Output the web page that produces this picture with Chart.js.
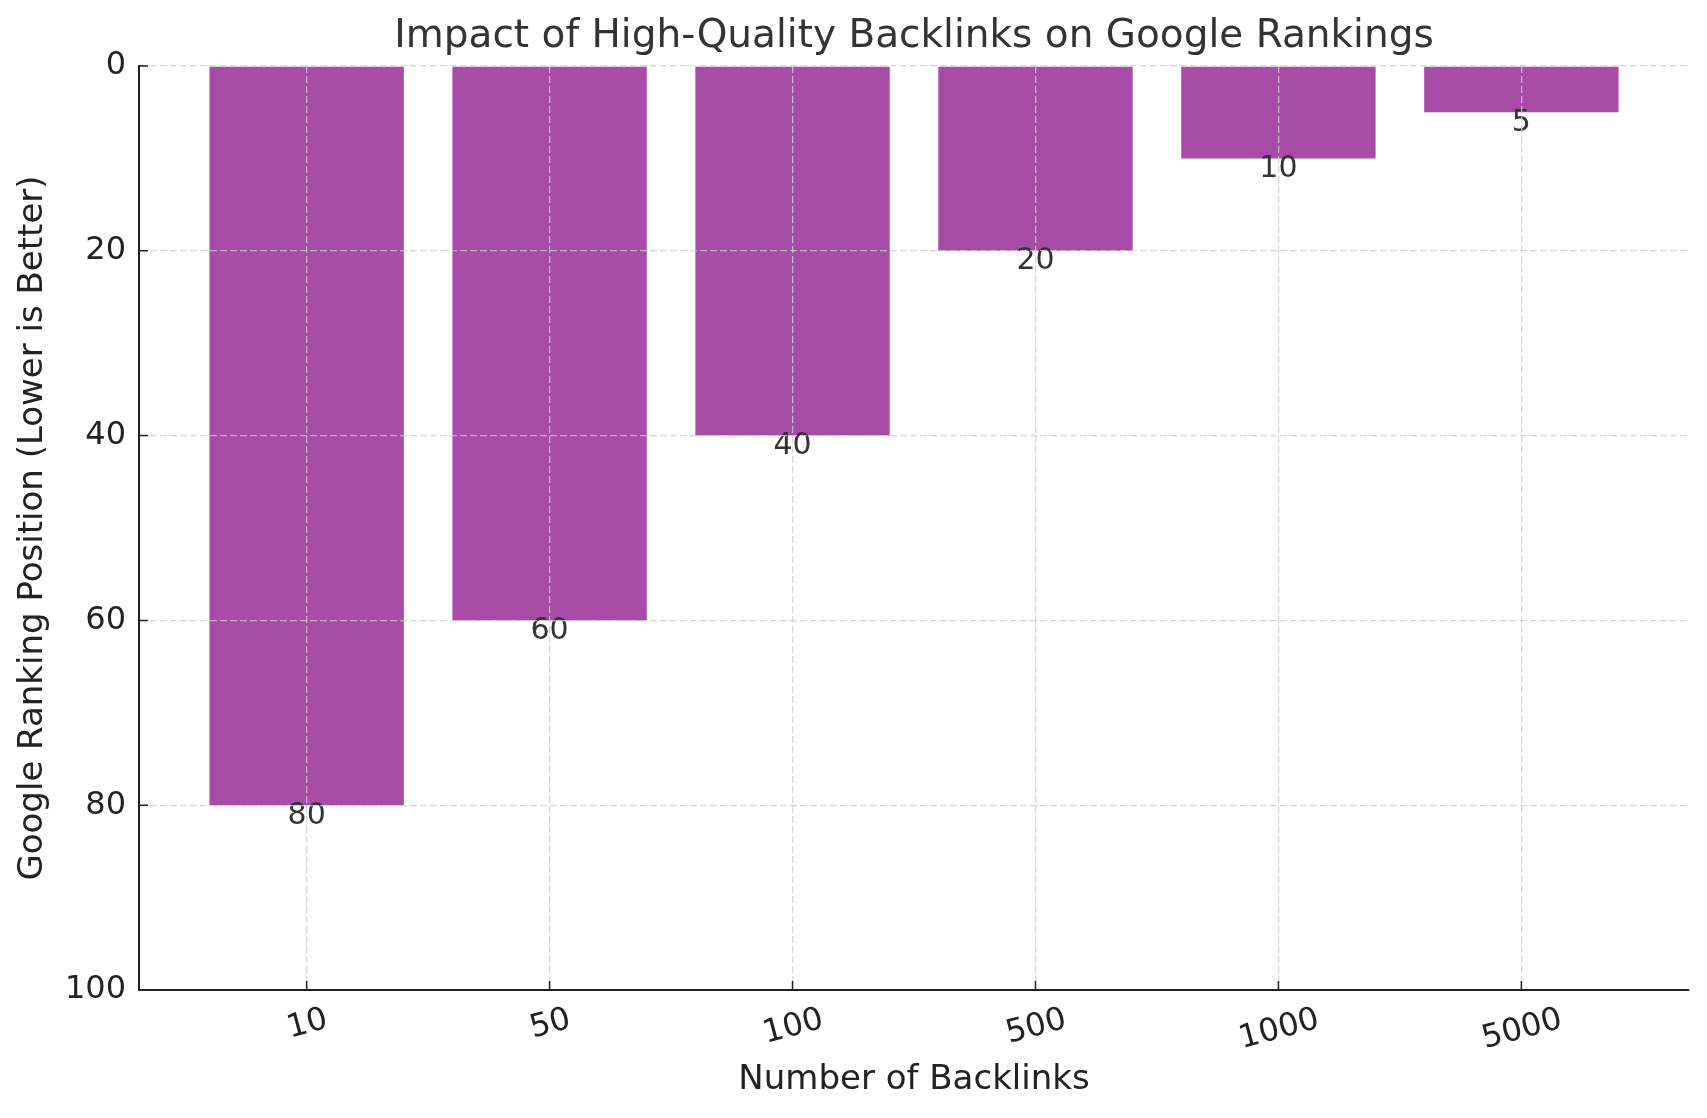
<!DOCTYPE html>
<html>
<head>
<meta charset="utf-8">
<title>Impact of High-Quality Backlinks on Google Rankings</title>
<script src="https://cdn.jsdelivr.net/npm/chart.js@4/dist/chart.umd.min.js"></script>
<style>
    html, body { margin: 0; padding: 0; background: #fff; }
    #wrap { width: 1707px; height: 1118px; }
</style>
</head>
<body>
<div id="wrap"><canvas id="rankChart" width="1707" height="1118"></canvas></div>
<script>
// ═══ 데이터 ═══
const backlinkLabels = ['10', '50', '100', '500', '1000', '5000'];
const rankPositions  = [80, 60, 40, 20, 10, 5];
const yTicks         = [0, 20, 40, 60, 80, 100];

const BAR_COLOR  = '#a64ca6';
const GRID_COLOR = 'rgba(205,205,205,0.8)';
const AXIS_COLOR = '#222222';
const TEXT_DARK  = '#222222';
const TEXT_GRAY  = '#333333';

Chart.defaults.font.family = "'DejaVu Sans', sans-serif";

/**
 * 막대 아래 값 라벨 + 회전된 x 눈금 라벨 + 안쪽 눈금
 */
const decorPlugin = {
    id: 'decor',
    afterDatasetsDraw(chart) {
        const { ctx } = chart;
        const yScale = chart.scales.y;
        const meta = chart.getDatasetMeta(0);

        ctx.save();
        ctx.fillStyle = TEXT_GRAY;
        ctx.font = "30px 'DejaVu Sans'";
        ctx.textAlign = 'center';
        ctx.textBaseline = 'alphabetic';
        meta.data.forEach((bar, i) => {
            const v = rankPositions[i];
            ctx.fillText(String(v), bar.x, yScale.getPixelForValue(v + 2));
        });
        ctx.restore();
    },
    afterDraw(chart) {
        const { ctx } = chart;
        const xScale = chart.scales.x;
        const yScale = chart.scales.y;
        const area = chart.chartArea;

        // 안쪽 눈금
        ctx.save();
        ctx.strokeStyle = AXIS_COLOR;
        ctx.lineWidth = 1.5;
        ctx.beginPath();
        backlinkLabels.forEach((_, i) => {
            const px = xScale.getPixelForValue(i);
            ctx.moveTo(px, area.bottom);
            ctx.lineTo(px, area.bottom - 9);
        });
        yTicks.forEach(t => {
            const py = yScale.getPixelForValue(t);
            ctx.moveTo(area.left, py);
            ctx.lineTo(area.left + 9, py);
        });
        ctx.stroke();
        ctx.restore();

        // x 눈금 라벨 (15도 회전, 가운데 정렬)
        const angle = 15 * Math.PI / 180;
        const capH = 23;
        ctx.save();
        ctx.fillStyle = TEXT_DARK;
        ctx.font = "32px 'DejaVu Sans'";
        ctx.textAlign = 'center';
        ctx.textBaseline = 'alphabetic';
        backlinkLabels.forEach((lab, i) => {
            const w = ctx.measureText(lab).width;
            const boxH = w * Math.sin(angle) + capH * Math.cos(angle);
            const cx = xScale.getPixelForValue(i);
            const cy = area.bottom + 15 + boxH / 2;
            ctx.save();
            ctx.translate(cx, cy);
            ctx.rotate(-angle);
            ctx.fillText(lab, 0, capH / 2);
            ctx.restore();
        });
        ctx.restore();
    }
};

const ctx = document.getElementById('rankChart').getContext('2d');
new Chart(ctx, {
    type: 'bar',
    data: {
        datasets: [{
            data: rankPositions.map((v, i) => ({ x: i, y: v })),
            backgroundColor: BAR_COLOR,
            borderWidth: 0,
            barPercentage: 0.8,
            categoryPercentage: 1.0
        }]
    },
    options: {
        responsive: false,
        animation: false,
        devicePixelRatio: 1,
        layout: { padding: { left: 0, right: 18, top: 0, bottom: 0 } },
        scales: {
            x: {
                type: 'linear',
                min: -0.69,
                max: 5.69,
                offset: false,
                afterBuildTicks: s => { s.ticks = backlinkLabels.map((_, i) => ({ value: i })); },
                afterFit: s => { s.height = 128; },
                ticks: { display: false },
                grid: { color: GRID_COLOR, lineWidth: 1.3, drawTicks: false, offset: false, z: 1 },
                border: { color: AXIS_COLOR, width: 2, dash: [7, 3], z: 2 },
                title: {
                    display: true,
                    text: 'Number of Backlinks',
                    color: TEXT_DARK,
                    font: { size: 34 },
                    padding: { top: 0, bottom: 17.6 }
                }
            },
            y: {
                reverse: true,
                min: 0,
                max: 100,
                afterBuildTicks: s => { s.ticks = yTicks.map(v => ({ value: v })); },
                afterFit: s => { s.width = 139; },
                ticks: { color: TEXT_DARK, font: { size: 32 }, padding: 13 },
                grid: {
                    color: c => (c.tick && c.tick.value === 100 ? 'rgba(0,0,0,0)' : GRID_COLOR),
                    lineWidth: 1.3, drawTicks: false, z: 1
                },
                border: { color: AXIS_COLOR, width: 2, dash: [7, 3], z: 2 },
                title: {
                    display: true,
                    text: 'Google Ranking Position (Lower is Better)',
                    color: TEXT_DARK,
                    font: { size: 34 },
                    padding: { top: 12.6, bottom: 0 }
                }
            }
        },
        plugins: {
            legend: { display: false },
            tooltip: { enabled: false },
            title: {
                display: true,
                text: 'Impact of High-Quality Backlinks on Google Rankings',
                color: TEXT_GRAY,
                fullSize: false,
                font: { size: 39, weight: 'normal' },
                padding: { top: 13.1, bottom: 6.1 }
            }
        }
    },
    plugins: [decorPlugin]
});
</script>
</body>
</html>
